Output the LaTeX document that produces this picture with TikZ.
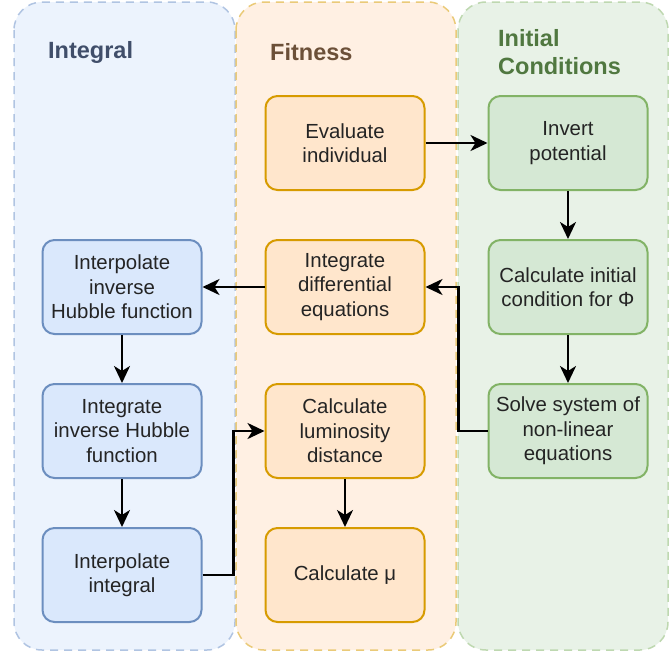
\documentclass[tikz,border=0pt]{standalone}
\usepackage{fontspec}
\setmainfont{Liberation Sans}
\usetikzlibrary{positioning,arrows.meta}

\definecolor{intlane}{RGB}{236,243,253}
\definecolor{intlaneline}{RGB}{176,196,226}
\definecolor{intfill}{RGB}{218,232,252}
\definecolor{intline}{RGB}{108,142,191}
\definecolor{inttext}{RGB}{64,78,106}
\definecolor{fitlane}{RGB}{255,240,227}
\definecolor{fitlaneline}{RGB}{234,202,120}
\definecolor{fitfill}{RGB}{255,230,204}
\definecolor{fitline}{RGB}{215,155,0}
\definecolor{fittext}{RGB}{108,80,56}
\definecolor{iclane}{RGB}{232,242,231}
\definecolor{iclaneline}{RGB}{190,216,176}
\definecolor{icfill}{RGB}{213,232,212}
\definecolor{icline}{RGB}{130,179,102}
\definecolor{ictext}{RGB}{80,120,64}
\definecolor{boxtext}{RGB}{36,36,36}

\begin{document}
\begin{tikzpicture}[x=1pt, y=1pt,
    lane/.style={dash pattern=on 8pt off 6pt, line width=1.5pt, rounded corners=28pt},
    box/.style={draw, line width=2pt, rounded corners=12pt, minimum width=159pt,
      minimum height=94pt, align=center, text=boxtext,
      font=\fontsize{20.4}{24.5}\selectfont},
    intbox/.style={box, fill=intfill, draw=intline},
    fitbox/.style={box, fill=fitfill, draw=fitline},
    icbox/.style={box, fill=icfill, draw=icline},
    lanetitle/.style={anchor=west, align=left, inner sep=0pt,
      font=\fontsize{23.5}{28.2}\selectfont\bfseries},
    flow/.style={-{Stealth[length=17pt, width=16pt, inset=5pt]}, line width=2.5pt},
  ]
    \useasboundingbox (0,0) rectangle (670,-654);

    \draw[lane, draw=intlaneline, fill=intlane] (14,-2) rectangle (235,-650);
    \draw[lane, draw=fitlaneline, fill=fitlane] (236,-2) rectangle (456,-650);
    \draw[lane, draw=iclaneline, fill=iclane] (458,-2) rectangle (668,-650);

    \node[lanetitle, text=inttext] (tint) at (48,-52) {Integral};
    \node[lanetitle, text=fittext] (tfit) at (270,-52) {Fitness};
    \node[lanetitle, text=ictext] (tic) at (498,-52) {Initial\\Conditions};

    \node[fitbox] (eval) at (345,-143) {Evaluate\\individual};
    \node[icbox, right=62pt of eval] (invert) {Invert\\potential};
    \node[icbox, below=48pt of invert] (initcond) {Calculate initial\\condition for Φ};
    \node[icbox, below=48pt of initcond] (solve) {Solve system of\\non-linear\\equations};

    \node[fitbox, below=48pt of eval] (diffeq) {Integrate\\differential\\equations};
    \node[fitbox, below=48pt of diffeq] (lumdist) {Calculate\\luminosity\\distance};
    \node[fitbox, below=48pt of lumdist] (mu) {Calculate μ};

    \node[intbox, left=62pt of diffeq] (interphub) {Interpolate\\inverse\\Hubble function};
    \node[intbox, below=48pt of interphub] (inthub) {Integrate\\inverse Hubble\\function};
    \node[intbox, below=48pt of inthub] (interpint) {Interpolate\\integral};

    \draw[flow] (eval) -- (invert);
    \draw[flow] (invert) -- (initcond);
    \draw[flow] (initcond) -- (solve);
    \draw[flow] (solve.west) -- ++(-29pt,0) |- (diffeq.east);
    \draw[flow] (diffeq) -- (interphub);
    \draw[flow] (interphub) -- (inthub);
    \draw[flow] (inthub) -- (interpint);
    \draw[flow] (interpint.east) -- ++(31pt,0) |- (lumdist.west);
    \draw[flow] (lumdist) -- (mu);
\end{tikzpicture}
\end{document}
